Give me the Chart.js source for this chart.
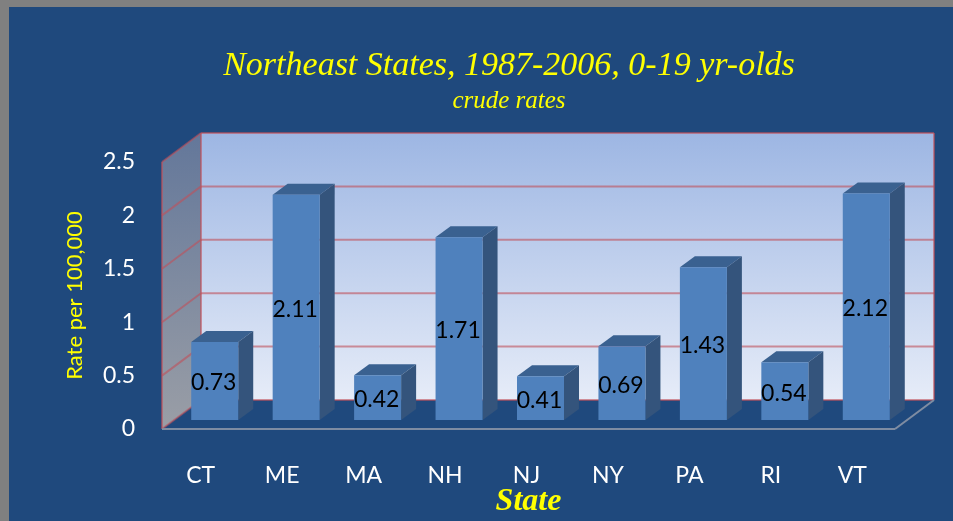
<!DOCTYPE html>
<html>
<head>
<meta charset="utf-8">
<title>Northeast States</title>
<script src="https://cdn.jsdelivr.net/npm/chart.js@4/dist/chart.umd.min.js"></script>
<style>
  html, body { margin: 0; padding: 0; background: #808080; overflow: hidden; }
  #myChart { position: absolute; left: 9px; top: 7px; background: #1F497D; }
</style>
</head>
<body>
<canvas id="myChart" width="944" height="514"></canvas>
<script>
const states = ["CT", "ME", "MA", "NH", "NJ", "NY", "PA", "RI", "VT"];
const rates = [0.73, 2.11, 0.42, 1.71, 0.41, 0.69, 1.43, 0.54, 2.12];

const titleText = "Northeast States, 1987-2006, 0-19 yr-olds";
const subtitleText = "crude rates";
const yAxisText = "Rate per 100,000";
const xAxisText = "State";

// Box depth of the fake 3D frame, and where the bars sit inside it
const WALL_DX = 39, WALL_DY = -29;
const BAR_DX = 12, BAR_DY = -9;
const SIDE_DX = 15, SIDE_DY = -11;
const RED_LINE = "rgba(192, 80, 90, 0.6)";

function polygon(ctx, points, fill) {
  ctx.beginPath();
  points.forEach((p, i) => i ? ctx.lineTo(p[0], p[1]) : ctx.moveTo(p[0], p[1]));
  ctx.closePath();
  ctx.fillStyle = fill;
  ctx.fill();
}

function line(ctx, x1, y1, x2, y2, color, width) {
  ctx.beginPath();
  ctx.moveTo(x1, y1);
  ctx.lineTo(x2, y2);
  ctx.strokeStyle = color;
  ctx.lineWidth = width;
  ctx.stroke();
}

const frame3d = {
  id: "frame3d",
  beforeDatasetsDraw(chart) {
    const ctx = chart.ctx;
    const area = chart.chartArea;
    const yScale = chart.scales.y;
    const l = area.left, r = area.right, t = area.top, b = area.bottom;

    // Back wall
    const backFill = ctx.createLinearGradient(0, t + WALL_DY, 0, b + WALL_DY);
    backFill.addColorStop(0, "#9DB6E3");
    backFill.addColorStop(1, "#E6ECF8");
    polygon(ctx, [[l + WALL_DX, t + WALL_DY], [r + WALL_DX, t + WALL_DY], [r + WALL_DX, b + WALL_DY], [l + WALL_DX, b + WALL_DY]], backFill);

    // Left wall
    const sideFill = ctx.createLinearGradient(0, t + WALL_DY, 0, b);
    sideFill.addColorStop(0, "#63779A");
    sideFill.addColorStop(1, "#9A9EA6");
    polygon(ctx, [[l, t], [l + WALL_DX, t + WALL_DY], [l + WALL_DX, b + WALL_DY], [l, b]], sideFill);

    // Grid lines, from the y axis ticks
    yScale.ticks.forEach(tick => {
      const y = yScale.getPixelForValue(tick.value);
      line(ctx, l, y, l + WALL_DX, y + WALL_DY, RED_LINE, 2);
      line(ctx, l + WALL_DX, y + WALL_DY, r + WALL_DX, y + WALL_DY, RED_LINE, 2);
    });
    line(ctx, l, t, l, b, RED_LINE, 2);
    line(ctx, l + WALL_DX, t + WALL_DY, l + WALL_DX, b + WALL_DY, RED_LINE, 2);
    line(ctx, r + WALL_DX, t + WALL_DY, r + WALL_DX, b + WALL_DY, RED_LINE, 2);

    // Floor edges
    line(ctx, l, b, r, b, "#7E8CA2", 2);
    line(ctx, r, b, r + WALL_DX, b + WALL_DY, "#7E8CA2", 2);

    // Top and side of each bar
    chart.getDatasetMeta(0).data.forEach(bar => {
      const x1 = bar.x - bar.width / 2 + BAR_DX;
      const x2 = bar.x + bar.width / 2 + BAR_DX;
      const top = bar.y + BAR_DY;
      const bottom = bar.base + BAR_DY;
      polygon(ctx, [[x1, top], [x1 + SIDE_DX, top + SIDE_DY], [x2 + SIDE_DX, top + SIDE_DY], [x2, top]], "#3A6190");
      polygon(ctx, [[x2, top], [x2 + SIDE_DX, top + SIDE_DY], [x2 + SIDE_DX, bottom + SIDE_DY], [x2, bottom]], "#34547C");
    });
  },
  beforeDatasetDraw(chart) {
    chart.ctx.save();
    chart.ctx.translate(BAR_DX, BAR_DY);
  },
  afterDatasetDraw(chart) {
    chart.ctx.restore();
  },
  afterDatasetsDraw(chart) {
    // Value labels in the middle of each bar
    const ctx = chart.ctx;
    ctx.save();
    ctx.font = "23px Lato";
    ctx.fillStyle = "#000";
    ctx.textAlign = "center";
    ctx.textBaseline = "middle";
    chart.getDatasetMeta(0).data.forEach((bar, i) => {
      ctx.fillText(rates[i].toFixed(2), bar.x + BAR_DX - 1, (bar.y + bar.base) / 2 + BAR_DY + 2);
    });
    ctx.restore();
  }
};

new Chart(document.getElementById("myChart"), {
  type: "bar",
  data: {
    labels: states,
    datasets: [{
      label: "Rate per 100,000",
      data: rates,
      backgroundColor: "#4F81BD",
      borderWidth: 0,
      barPercentage: 0.577,
      categoryPercentage: 1,
      clip: false
    }]
  },
  options: {
    responsive: false,
    animation: false,
    layout: { padding: { left: 56 } },
    plugins: {
      legend: { display: false },
      tooltip: { enabled: false },
      title: {
        display: true,
        text: titleText,
        color: "#FFFF00",
        font: { family: "'Liberation Serif'", size: 34, style: "italic", weight: "normal", lineHeight: 1.2 },
        padding: { top: 39, bottom: 0 }
      },
      subtitle: {
        display: true,
        text: subtitleText,
        color: "#FFFF00",
        font: { family: "'Liberation Serif'", size: 25, style: "italic", weight: "normal", lineHeight: 1.2 },
        padding: { top: 0, bottom: 45.2 }
      }
    },
    scales: {
      x: {
        grid: { display: false },
        border: { display: false },
        ticks: { color: "#FFF", padding: 25, labelOffset: -2, maxRotation: 0, font: { family: "Lato", size: 23 } },
        title: {
          display: true,
          text: xAxisText,
          color: "#FFFF00",
          font: { family: "'Liberation Serif'", size: 32, style: "italic", weight: "bold" },
          padding: { top: 0, bottom: 0 }
        },
        afterFit: scale => { scale.height = 92; }
      },
      y: {
        min: 0,
        max: 2.5,
        grid: { display: false, drawTicks: false },
        border: { display: false },
        ticks: { color: "#FFF", stepSize: 0.5, padding: 27, font: { family: "Lato", size: 23 }, callback: value => String(value) },
        title: {
          display: true,
          text: yAxisText,
          color: "#FFFF00",
          font: { family: "Lato", size: 22, weight: "normal" },
          padding: { top: -3, bottom: 0 }
        },
        afterFit: scale => { scale.width = 97; }
      },
      // empty axis that only keeps the plot clear of the right edge
      spacer: {
        type: "linear",
        position: "right",
        grid: { display: false, drawTicks: false },
        border: { display: false },
        ticks: { display: false },
        afterFit: scale => { scale.width = 58; }
      }
    }
  },
  plugins: [frame3d]
});
</script>
</body>
</html>
